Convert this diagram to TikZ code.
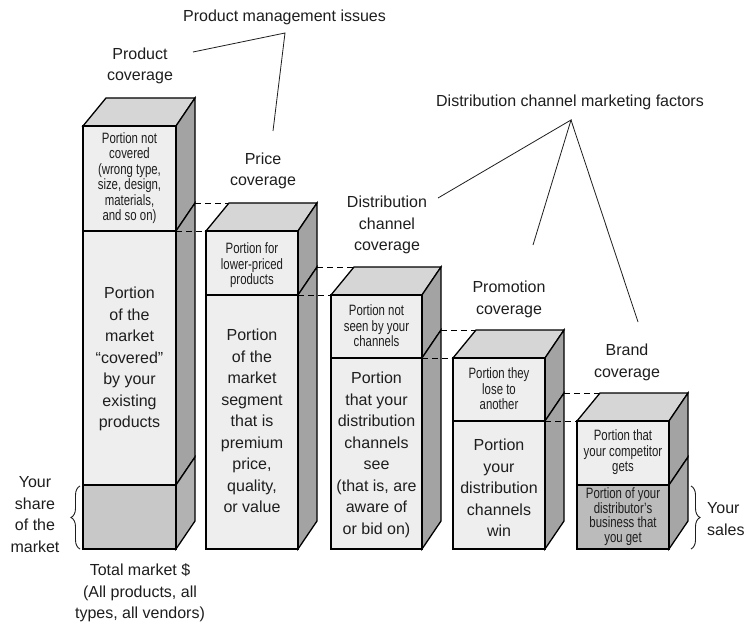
\documentclass[tikz,border=0pt]{standalone}
\usepackage{fontspec}
\setmainfont{Liberation Sans}
\newfontfamily\narrowsans[FakeStretch=0.76]{Liberation Sans}
\usetikzlibrary{decorations.pathreplacing}

\definecolor{frontgray}{HTML}{EEEEEE}
\definecolor{topgray}{HTML}{D6D6D6}
\definecolor{sidegray}{HTML}{A3A3A3}
\definecolor{sharefront}{HTML}{C8C8C8}
\definecolor{shareside}{HTML}{B2B2B2}
\definecolor{salesfront}{HTML}{BBBBBB}
\definecolor{salesside}{HTML}{A6A6A6}
\definecolor{ink}{HTML}{1E1E1E}

\tikzset{
  bigtext/.style={font=\fontsize{16}{21.5}\selectfont, align=center, text=ink, inner sep=0pt},
  smalltext/.style={font=\narrowsans\fontsize{15}{15.5}\selectfont, align=center, text=ink, inner sep=0pt},
  tighttext/.style={font=\narrowsans\fontsize{15}{14.5}\selectfont, align=center, text=ink, inner sep=0pt},
  edge/.style={draw=black, line width=1.3pt},
  frontedge/.style={draw=black, line width=1.8pt},
  guide/.style={draw=black, line width=0.9pt, dash pattern=on 6pt off 4pt},
  leader/.style={draw=ink, line width=0.8pt},
  curly/.style={draw=ink, line width=0.9pt, decorate, decoration={brace, amplitude=9pt}},
}

% top face of a block: front-left x, front-right x, front top y
\newcommand\topface[3]{%
  \filldraw[fill=topgray, edge] (#1,#3) -- ({#1+23},{#3-28}) -- ({#2+19},{#3-28}) -- (#2,#3) -- cycle;}
% right face of one slice: front-right x, top y, bottom y, colour
\newcommand\sideface[4]{%
  \filldraw[fill=#4, edge] (#1,#2) -- ({#1+19},{#2-28}) -- ({#1+19},{#3-28}) -- (#1,#3) -- cycle;}
% front face of one slice: left x, right x, top y, bottom y, colour
\newcommand\frontface[5]{%
  \filldraw[fill=#5, frontedge] (#1,#3) rectangle (#2,#4);}

\begin{document}
\begin{tikzpicture}[x=1pt,y=-1pt]
\useasboundingbox (0,0) rectangle (746,628);
\fill[white] (0,0) rectangle (746,628);

% ---- block 1: total market
\topface{83}{176}{126}
\sideface{176}{126}{231}{sidegray}
\sideface{176}{231}{485}{sidegray}
\sideface{176}{485}{549}{shareside}
\frontface{83}{176}{126}{231}{frontgray}
\frontface{83}{176}{231}{485}{frontgray}
\frontface{83}{176}{485}{549}{sharefront}

% ---- block 2: price
\topface{206}{298}{231}
\sideface{298}{231}{295}{sidegray}
\sideface{298}{295}{549}{sidegray}
\frontface{206}{298}{231}{295}{frontgray}
\frontface{206}{298}{295}{549}{frontgray}

% ---- block 3: distribution channel
\topface{331}{422}{295}
\sideface{422}{295}{358}{sidegray}
\sideface{422}{358}{549}{sidegray}
\frontface{331}{422}{295}{358}{frontgray}
\frontface{331}{422}{358}{549}{frontgray}

% ---- block 4: promotion
\topface{453}{545}{358}
\sideface{545}{358}{421}{sidegray}
\sideface{545}{421}{549}{sidegray}
\frontface{453}{545}{358}{421}{frontgray}
\frontface{453}{545}{421}{549}{frontgray}

% ---- block 5: brand
\topface{577}{669}{421}
\sideface{669}{421}{485}{sidegray}
\sideface{669}{485}{549}{salesside}
\frontface{577}{669}{421}{485}{frontgray}
\frontface{577}{669}{485}{549}{salesfront}

% ---- dashed guides between consecutive blocks
\coordinate (g1a) at (195,203); \coordinate (g1b) at (229,203);
\coordinate (g1c) at (176,231); \coordinate (g1d) at (206,231);
\coordinate (g2a) at (317,267); \coordinate (g2b) at (354,267);
\coordinate (g2c) at (298,295); \coordinate (g2d) at (331,295);
\coordinate (g3a) at (441,330); \coordinate (g3b) at (476,330);
\coordinate (g3c) at (422,358); \coordinate (g3d) at (453,358);
\coordinate (g4a) at (564,393); \coordinate (g4b) at (600,393);
\coordinate (g4c) at (545,421); \coordinate (g4d) at (577,421);
\foreach \i in {1,...,4}{
  \draw[guide] (g\i a) -- (g\i b);
  \draw[guide] (g\i c) -- (g\i d);
}

% ---- texts inside the blocks
\node[smalltext] (notcov) at (129.5,178) {Portion not\\covered\\(wrong type,\\size, design,\\materials,\\and so on)};
\node[bigtext] (covered) at (129.5,359) {Portion\\of the\\market\\“covered”\\by your\\existing\\products};
\node[smalltext] (lowprice) at (252,265.5) {Portion for\\lower-priced\\products};
\node[bigtext] (premium) at (252,421) {Portion\\of the\\market\\segment\\that is\\premium\\price,\\quality,\\or value};
\node[smalltext] (notseen) at (376.5,326) {Portion not\\seen by your\\channels};
\node[bigtext] (seen) at (376.5,455) {Portion\\that your\\distribution\\channels\\see\\(that is, are\\aware of\\or bid on)};
\node[smalltext] (lose) at (499,389) {Portion they\\lose to\\another};
\node[bigtext] (win) at (499,488) {Portion\\your\\distribution\\channels\\win};
\node[smalltext] (competitor) at (623,452.5) {Portion that\\your competitor\\gets};
\node[tighttext] (yourpart) at (623,516.5) {Portion of your\\distributor’s\\business that\\you get};

% ---- headings
\node[bigtext] (pmi) at (284.5,17) {Product management issues};
\node[bigtext] (prodcov) at (140,66) {Product\\coverage};
\node[bigtext] (pricecov) at (263,171) {Price\\coverage};
\node[bigtext] (distcov) at (387,225) {Distribution\\channel\\coverage};
\node[bigtext] (dcmf) at (570,102) {Distribution channel marketing factors};
\node[bigtext] (promocov) at (509,299.5) {Promotion\\coverage};
\node[bigtext] (brandcov) at (627,362.5) {Brand\\coverage};
\node[bigtext] (share) at (35,514.5) {Your\\share\\of the\\market};
\node[bigtext] (total) at (140,593) {Total market \$\\(All products, all\\types, all vendors)};
\node[bigtext, align=left, anchor=west] (sales) at (707,519) {Your\\sales};

% ---- leader lines from the two group headings
\coordinate (pmi-apex) at (285,33);
\coordinate (pmi-to-prod) at (193,52);
\coordinate (pmi-to-price) at (273,131);
\draw[leader] (pmi-to-prod) -- (pmi-apex) -- (pmi-to-price);
\coordinate (dcmf-apex) at (571,120);
\coordinate (dcmf-to-dist) at (438,198);
\coordinate (dcmf-to-promo) at (533,245);
\coordinate (dcmf-to-brand) at (638,322);
\draw[leader] (dcmf-to-dist) -- (dcmf-apex) -- (dcmf-to-promo);
\draw[leader] (dcmf-apex) -- (dcmf-to-brand);

% ---- braces
\coordinate (share-lo) at (80,549); \coordinate (share-hi) at (80,486);
\draw[curly] (share-lo) -- (share-hi);
\coordinate (sales-hi) at (691,486); \coordinate (sales-lo) at (691,549);
\draw[curly] (sales-hi) -- (sales-lo);
\end{tikzpicture}
\end{document}
